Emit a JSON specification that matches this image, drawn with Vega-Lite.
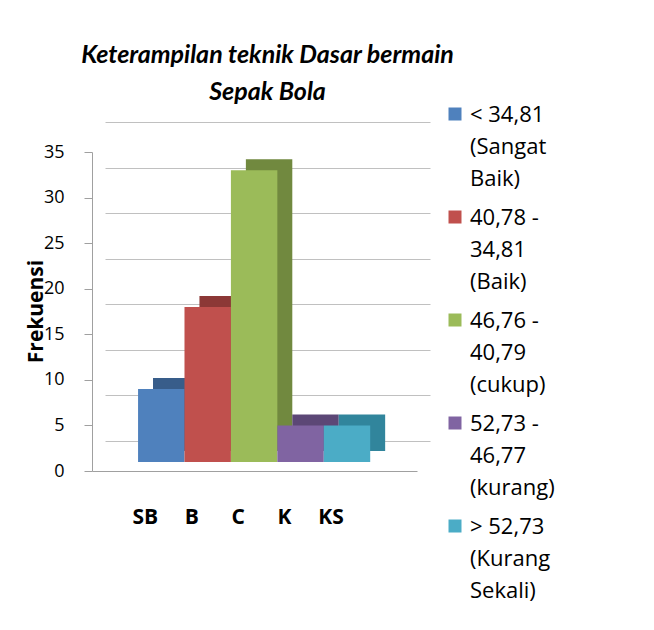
{
  "$schema": "https://vega.github.io/schema/vega-lite/v6.json",
  "width": 325,
  "height": 319,
  "autosize": {"type": "none"},
  "padding": {"left": 92, "top": 152, "right": 237, "bottom": 159},
  "background": "white",
  "title": {
    "text": ["Keterampilan teknik Dasar bermain", "Sepak Bola"],
    "font": "Lato",
    "fontSize": 25,
    "fontStyle": "italic",
    "fontWeight": "bold",
    "color": "#000000",
    "lineHeight": 37,
    "anchor": "middle",
    "frame": "group",
    "baseline": "bottom",
    "offset": 46,
    "dx": 13,
    "dy": 65
  },
  "data": {
    "values": [
      {"kode": "SB", "kategori": "< 34,81\n(Sangat\nBaik)", "frekuensi": 8},
      {"kode": "B", "kategori": "40,78 -\n34,81\n(Baik)", "frekuensi": 17},
      {"kode": "C", "kategori": "46,76 -\n40,79\n(cukup)", "frekuensi": 32},
      {"kode": "K", "kategori": "52,73 -\n46,77\n(kurang)", "frekuensi": 4},
      {"kode": "KS", "kategori": "> 52,73\n(Kurang\nSekali)", "frekuensi": 4}
    ]
  },
  "layer": [
    {
      "mark": {"type": "bar", "yOffset": -20},
      "encoding": {
        "x": {
          "field": "kode",
          "type": "nominal",
          "sort": null,
          "scale": {"range": [43, 368], "paddingInner": 0, "paddingOuter": 1, "align": 0.194},
          "axis": null
        },
        "y": {
          "field": "frekuensi",
          "type": "quantitative",
          "scale": {"domain": [0, 35], "nice": false},
          "axis": {
            "orient": "left",
            "values": [0, 5, 10, 15, 20, 25, 30, 35],
            "title": null,
            "labels": false,
            "ticks": false,
            "domain": false,
            "grid": true,
            "gridColor": "#c0c0c0",
            "translate": -29.5
          }
        },
        "color": {
          "field": "kategori",
          "type": "nominal",
          "sort": null,
          "scale": {"range": ["#385D8A", "#8C3836", "#71893F", "#5C4776", "#31859C"]},
          "legend": null
        }
      }
    },
    {
      "mark": {"type": "bar", "yOffset": -9},
      "encoding": {
        "x": {
          "field": "kode",
          "type": "nominal",
          "sort": null,
          "scale": {"paddingInner": 0, "paddingOuter": 1, "align": 0.496},
          "axis": {
            "orient": "bottom",
            "title": null,
            "labelAngle": 0,
            "labelFont": "Open Sans",
            "labelFontSize": 21,
            "labelFontWeight": "bold",
            "labelColor": "#000000",
            "ticks": false,
            "labelPadding": 35,
            "labelOffset": -16,
            "domainColor": "#a0a0a0",
            "grid": false
          }
        },
        "y": {
          "field": "frekuensi",
          "type": "quantitative",
          "scale": {"domain": [0, 35], "nice": false},
          "axis": {
            "orient": "left",
            "values": [0, 5, 10, 15, 20, 25, 30, 35],
            "title": "Frekuensi",
            "titleFont": "Open Sans",
            "titleFontSize": 21,
            "titleFontWeight": "bold",
            "titleColor": "#000000",
            "titleX": -50,
            "titleY": 159,
            "titleAngle": -90,
            "titleAlign": "center",
            "titleBaseline": "alphabetic",
            "labelFont": "Open Sans",
            "labelFontSize": 18,
            "labelColor": "#000000",
            "labelPadding": 20,
            "tickSize": 8,
            "tickColor": "#a0a0a0",
            "domainColor": "#a0a0a0",
            "grid": false
          }
        },
        "color": {
          "field": "kategori",
          "type": "nominal",
          "sort": null,
          "scale": {"range": ["#4F81BD", "#C0504D", "#9BBB59", "#8064A2", "#4BACC6"]},
          "legend": {
            "title": null,
            "orient": "none",
            "legendX": 352,
            "legendY": -41,
            "symbolType": "M-1,-2.23H1V-0.23H-1Z",
            "symbolSize": 169,
            "symbolStrokeWidth": 0,
            "labelFont": "Open Sans",
            "labelFontSize": 22,
            "labelColor": "#000000",
            "labelOffset": 4,
            "labelLimit": 300,
            "rowPadding": 17,
            "labelBaseline": "alphabetic",
            "labelExpr": "split(datum.label, '\\n')"
          }
        }
      }
    }
  ],
  "resolve": {
    "scale": {"color": "independent", "x": "independent"},
    "axis": {"y": "independent", "x": "independent"}
  },
  "config": {
    "view": {"stroke": null},
    "style": {"guide-label": {"lineHeight": 32}}
  }
}
